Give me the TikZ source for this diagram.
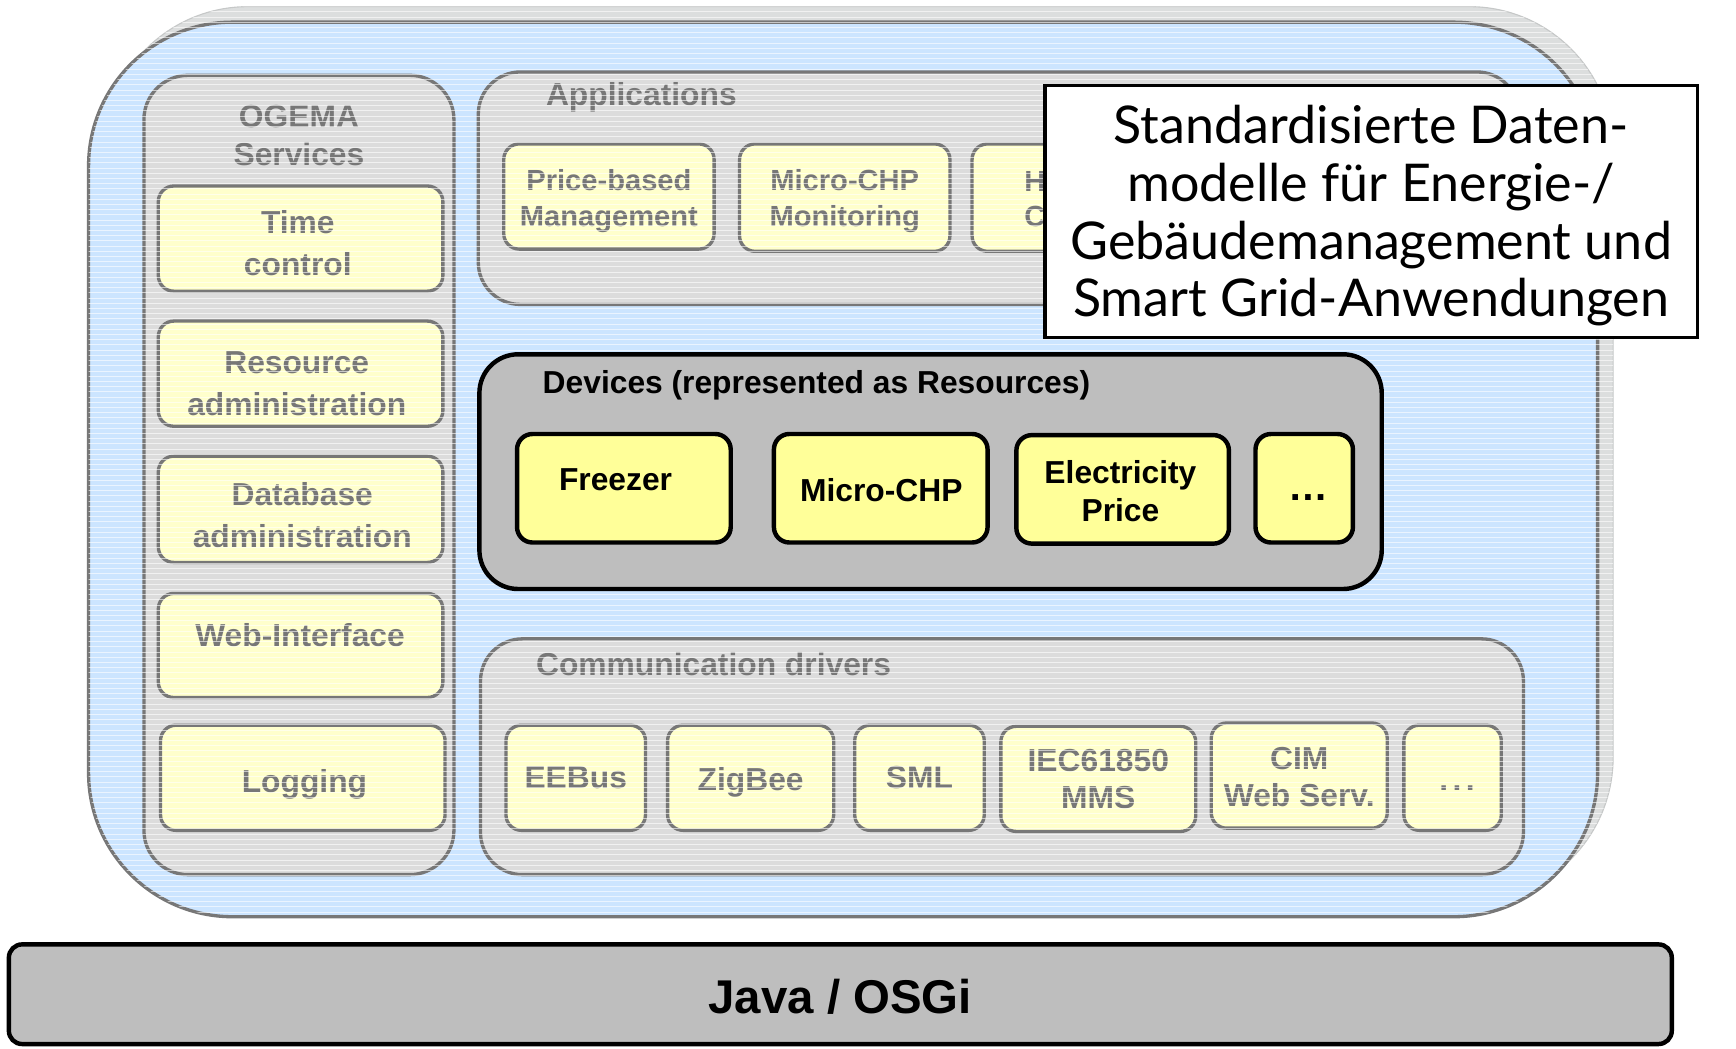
\documentclass[tikz,border=0pt]{standalone}
\usepackage{fontspec}
\setmainfont{Liberation Sans}
\newfontfamily\callfont{Lato}
\definecolor{blueBg}{HTML}{CCE5FF}
\definecolor{fadeGray}{HTML}{DCDCDC}
\definecolor{fadeLine}{HTML}{777777}
\definecolor{fadeYellow}{HTML}{FFFFCC}
\definecolor{devGray}{HTML}{BEBEBE}
\definecolor{devYellow}{HTML}{FFFF99}
\definecolor{shadowGray}{HTML}{DCDEDE}
\begin{document}
\begin{tikzpicture}[x=1pt,y=-1pt,
  fadedpanel/.style={draw=fadeLine, line width=3pt, fill=fadeGray, rounded corners=38pt},
  fadedbox/.style={draw=fadeLine, line width=3pt, fill=fadeYellow, rounded corners=14pt,
    text=fadeLine, font=\bfseries\fontsize{28.7}{38}\selectfont, align=center, inner sep=0pt},
  ftext/.style={text=fadeLine, font=\bfseries\fontsize{28.7}{38}\selectfont, align=center, inner sep=0pt},
  atext/.style={ftext, font=\bfseries\fontsize{26.3}{32}\selectfont},
  fadedtitle/.style={text=fadeLine, font=\bfseries\fontsize{28.7}{34}\selectfont, inner sep=0pt},
  devbox/.style={draw=black, line width=4pt, fill=devYellow, rounded corners=14pt,
    font=\bfseries\fontsize{28.7}{35}\selectfont, align=center, inner sep=0pt},
  dtext/.style={font=\bfseries\fontsize{28.7}{35}\selectfont, align=center, inner sep=0pt},
]
\useasboundingbox (0,0) rectangle (1568,947);

% shadow and outer frame
\path[fill=shadowGray, draw=shadowGray!90!black, line width=1pt, rounded corners=130pt]
  (94,6) rectangle (1457,814);
\path[fill=blueBg, draw=fadeLine, line width=3pt, rounded corners=130pt]
  (80,20) rectangle (1443,828);

% OGEMA services column
\path[fadedpanel, rounded corners=40pt] (130,68) rectangle (410,790);
\node[fadedtitle, align=center] (ogema) at (270,122.5) {OGEMA\\Services};
\node[fadedbox, minimum width=257pt, minimum height=95pt] (time) at (271.5,215.5) {};
\node[ftext] (timeT) at (269,219.5) {Time\\control};
\node[fadedbox, minimum width=257pt, minimum height=95pt] (res) at (271.5,337.5) {};
\node[ftext] (resT) at (268,347) {Resource\\administration};
\node[fadedbox, minimum width=257pt, minimum height=96pt] (db) at (271.5,460) {};
\node[ftext] (dbT) at (273,465) {Database\\administration};
\node[fadedbox, minimum width=257pt, minimum height=94pt] (web) at (271.5,583) {};
\node[ftext] (webT) at (271,574) {Web-Interface};
\node[fadedbox, minimum width=257pt, minimum height=95pt] (log) at (273.5,702.5) {};
\node[ftext] (logT) at (275,708.5) {Logging};

% Applications
\path[fadedpanel] (432,65) rectangle (1372,275);
\node[fadedtitle, anchor=west] (apps) at (493,88) {Applications};
\node[fadedbox, minimum width=190pt, minimum height=95pt] (price) at (550,177.5) {};
\node[atext] (priceT) at (550,181.5) {Price-based\\Management};
\node[fadedbox, minimum width=190pt, minimum height=97pt] (mon) at (763,178.5) {};
\node[atext] (monT) at (763,181.5) {Micro-CHP\\Monitoring};
\node[fadedbox, minimum width=192pt, minimum height=97pt] (heat) at (974,178.5) {};
\node[atext, anchor=west, align=left] (heatT) at (925,180) {H\\C};

% Communication drivers
\path[fadedpanel] (434,577) rectangle (1376,790);
\node[fadedtitle, anchor=west] (comm) at (484,600) {Communication drivers};
\node[fadedbox, minimum width=126pt, minimum height=95pt] (eebus) at (520,702.5) {EEBus};
\node[fadedbox, minimum width=150pt, minimum height=95pt] (zig) at (678,702.5) {};
\node[ftext] (zigT) at (678,706.5) {ZigBee};
\node[fadedbox, minimum width=117pt, minimum height=95pt] (sml) at (830.5,702.5) {SML};
\node[fadedbox, minimum width=176pt, minimum height=95pt, font=\bfseries\fontsize{28.7}{34}\selectfont] (iec) at (992,703.5) {IEC61850\\MMS};
\node[fadedbox, minimum width=159pt, minimum height=95pt] (cim) at (1173.5,700.5) {};
\node[ftext, font=\bfseries\fontsize{28.7}{34}\selectfont] (cimT) at (1173.5,702) {CIM\\Web Serv.};
\node[fadedbox, minimum width=88pt, minimum height=95pt] (more) at (1312,702.5) {};
\node[ftext] (moreT) at (1316,712) {.\hspace{4pt}.\hspace{4pt}.};

% faded overlay lines
\begin{scope}
  \clip[rounded corners=130pt] (94,6) rectangle (1457,814) (80,20) rectangle (1443,828);
  \foreach \i in {0,...,176} {
    \draw[white, line width=0.7pt, opacity=0.6] (75,{6+\i*4.7}) -- (1465,{6+\i*4.7});
  }
\end{scope}

% Devices
\path[draw=black, line width=4pt, fill=devGray, rounded corners=35pt] (433,320) rectangle (1248,532);
\node[anchor=west, inner sep=0pt, font=\bfseries\fontsize{28.7}{34}\selectfont] (devt) at (490,348) {Devices (represented as Resources)};
\node[devbox, minimum width=193pt, minimum height=98pt] (freezer) at (563.5,441) {};
\node[dtext] (freezerT) at (556,433) {Freezer};
\node[devbox, minimum width=193pt, minimum height=98pt] (chp) at (795.5,441) {};
\node[dtext] (chpT) at (796,443) {Micro-CHP};
\node[devbox, minimum width=192pt, minimum height=98pt] (elec) at (1014,442) {};
\node[dtext] (elecT) at (1012,443.5) {Electricity\\Price};
\node[devbox, minimum width=88pt, minimum height=98pt] (dots) at (1178,441) {};
\node[dtext, font=\bfseries\fontsize{36}{40}\selectfont] (dotsT) at (1182,449) {…};

% Callout
\node[draw=black, line width=3pt, fill=white, minimum width=589pt, minimum height=228pt,
  inner sep=0pt, align=center, font=\callfont\fontsize{47}{52}\selectfont] (callout) at (1238.5,191)
  {};
\node[inner sep=0pt, align=center, font=\callfont\fontsize{47}{52}\selectfont] (calloutT) at (1238.5,195)
  {Standardisierte Daten-\\modelle für Energie-/\\Gebäudemanagement und\\Smart Grid-Anwendungen};

% Java / OSGi
\node[draw=black, line width=4pt, fill=devGray, rounded corners=12pt, minimum width=1502pt,
  minimum height=90pt, inner sep=0pt, font=\bfseries\fontsize{42.8}{50}\selectfont] (java) at (759,898) {};
\node[inner sep=0pt, font=\bfseries\fontsize{42.8}{50}\selectfont] (javaT) at (759,900) {Java / OSGi};
\end{tikzpicture}
\end{document}
